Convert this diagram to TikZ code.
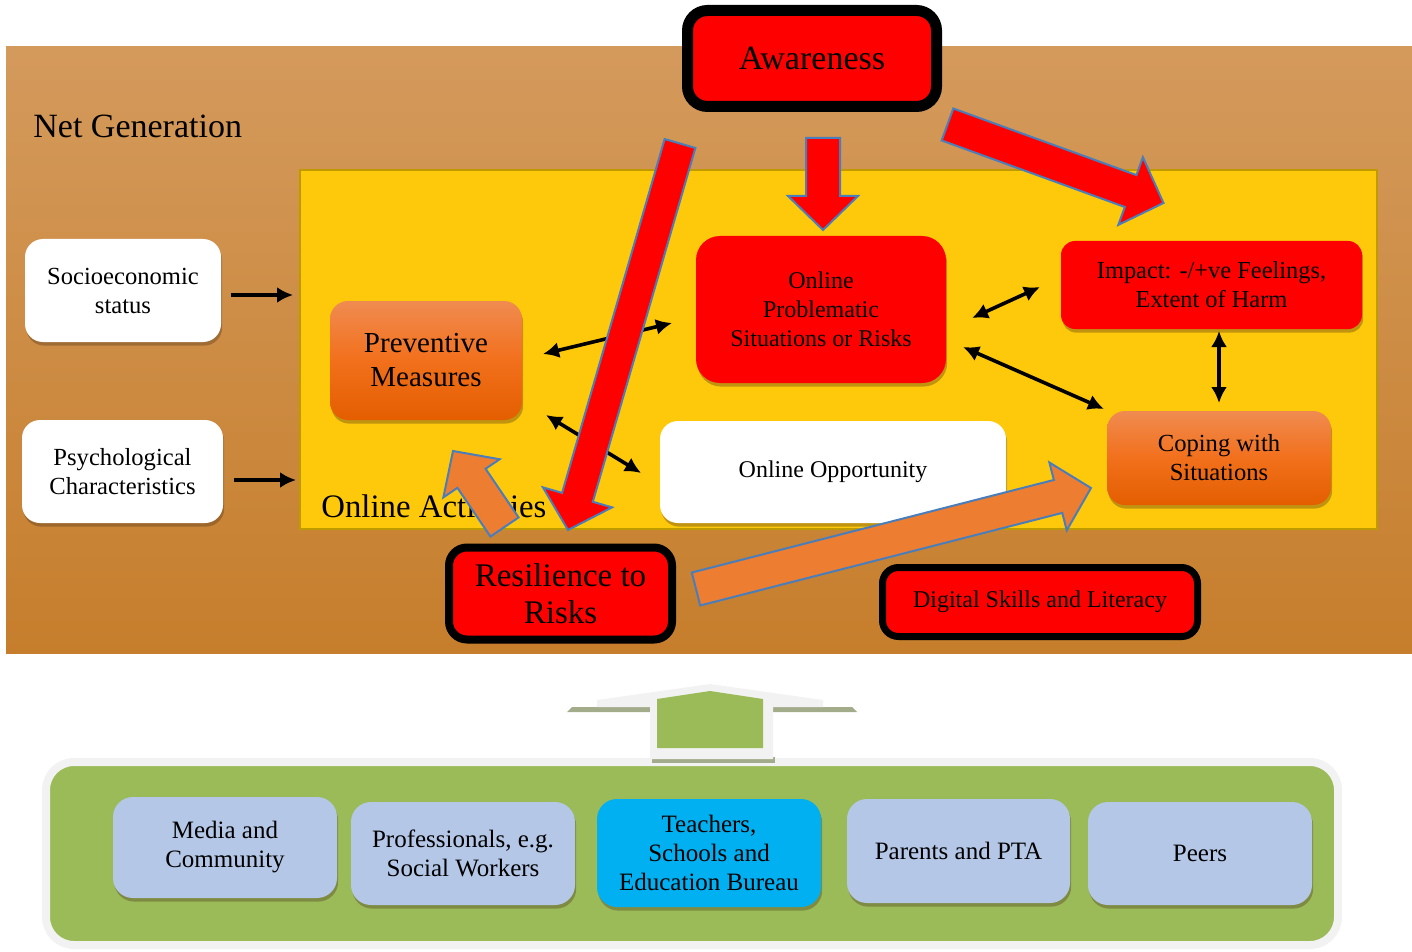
\documentclass[tikz,border=0pt]{standalone}
\usepackage{fontspec}
\setmainfont{Liberation Serif}
\usetikzlibrary{calc,shadows,arrows.meta}
\definecolor{bgtop}{HTML}{D49A5C}
\definecolor{bgbot}{HTML}{C67E2C}
\definecolor{yel}{HTML}{FFC90B}
\definecolor{yelbd}{HTML}{BF9B00}
\definecolor{orTop}{HTML}{F08B50}
\definecolor{orMid}{HTML}{F2701C}
\definecolor{orBot}{HTML}{E45E00}
\definecolor{lblue}{HTML}{B4C7E7}
\definecolor{cyanb}{HTML}{00B0F0}
\definecolor{grn}{HTML}{9BBB59}
\definecolor{cbord}{HTML}{F2F2F2}
\definecolor{orArrow}{HTML}{ED7D31}
\definecolor{abord}{HTML}{4A7EBB}
\definecolor{shgrey}{HTML}{A3AC8A}
\newcommand\blockarr[6]{%
 \draw[#1] ($(#2)!#4!90:(#3)$) -- ($(#3)!#6!(#2)!#4!-90:(#2)$) -- ($(#3)!#6!(#2)!#5!-90:(#2)$) -- (#3) -- ($(#3)!#6!(#2)!#5!90:(#2)$) -- ($(#3)!#6!(#2)!#4!90:(#2)$) -- ($(#2)!#4!-90:(#3)$) -- cycle;}
\begin{document}
\begin{tikzpicture}[x=0.5pt,y=-0.5pt,
 every node/.style={align=center, text=black, inner sep=2pt},
 shad/.style={drop shadow={shadow xshift=0.6pt, shadow yshift=-1.8pt, opacity=0.35, fill=black!60!brown}},
 wbox/.style={fill=white, rounded corners=9pt, shad, font=\fontsize{12.3}{14.5}\selectfont},
 obox/.style={top color=orTop, bottom color=orBot, middle color=orMid, rounded corners=9pt, shad},
 rbox/.style={fill=red, shad},
 kbox/.style={fill=red, draw=black, rounded corners=9pt, shad},
 bbox/.style={fill=lblue, rounded corners=10pt, shad, minimum width=112pt, font=\fontsize{12.5}{14.5}\selectfont},
 arr/.style={-{Latex[length=8pt,width=8pt]}, line width=1.8pt},
 darr/.style={{Latex[length=8pt,width=8pt]}-{Latex[length=8pt,width=8pt]}, line width=1.8pt},
 redarrow/.style={fill=red, draw=abord, line width=1pt},
 orarrow/.style={fill=orArrow, draw=abord, line width=1pt}]
\useasboundingbox (0,0) rectangle (1412,952);
% background
\fill[top color=bgtop, bottom color=bgbot] (6,47) rectangle (1412,653);
\node[anchor=base west, font=\fontsize{17}{20}\selectfont] (netgen) at (29,138) {Net Generation};
\node[draw=yelbd, fill=yel, line width=1.2pt, minimum width=538.5pt, minimum height=179.5pt, inner sep=0pt] (online) at (838.5,349.5) {};
\node[anchor=base west, font=\fontsize{16.4}{19}\selectfont] (onlinelab) at (317,517) {Online Activities};
% boxes
\node[kbox, line width=5.5pt, rounded corners=10pt, minimum width=124.5pt, minimum height=48pt, font=\fontsize{17}{19}\selectfont] (aware) at (812,58.5) {Awareness};
\node[wbox, minimum width=98pt, minimum height=51.5pt] (socio) at (123,290.5) {Socioeconomic\\status};
\node[wbox, minimum width=100.5pt, minimum height=51.5pt] (psych) at (122.5,471.5) {Psychological\\Characteristics};
\node[obox, minimum width=96pt, minimum height=59.5pt, font=\fontsize{14.5}{17}\selectfont] (prev) at (426,360.5) {Preventive\\Measures};
\node[rbox, rounded corners=12pt, minimum width=125pt, minimum height=73.5pt, font=\fontsize{12}{14.5}\selectfont] (opsr) at (821,309.5) {Online\\Problematic\\Situations or Risks};
\node[rbox, rounded corners=7pt, minimum width=150.5pt, minimum height=44pt, font=\fontsize{12.2}{14.5}\selectfont] (impact) at (1211.5,285) {Impact: -/+ve Feelings,\\Extent of Harm};
\node[obox, minimum width=112pt, minimum height=47pt, font=\fontsize{12.3}{14.5}\selectfont] (coping) at (1219,458) {Coping with\\Situations};
\node[wbox, minimum width=173pt, minimum height=51pt, font=\fontsize{12}{14}\selectfont] (opp) at (833,472) {Online Opportunity};
\node[kbox, line width=4pt, minimum width=111.5pt, minimum height=46pt, font=\fontsize{16.5}{18.5}\selectfont] (resil) at (560.5,593.5) {Resilience to\\Risks};
\node[kbox, line width=3.5pt, rounded corners=8pt, minimum width=157.5pt, minimum height=34.5pt, font=\fontsize{12}{14}\selectfont] (digital) at (1040,602) {Digital Skills and Literacy};
% black arrows
\coordinate (s1) at (231,295); \coordinate (s2) at (293,295);
\coordinate (p1) at (234,480); \coordinate (p2) at (296,480);
\coordinate (a1) at (543,354); \coordinate (a2) at (672,323);
\coordinate (b1) at (546,415); \coordinate (b2) at (641,473);
\coordinate (c1) at (972,318); \coordinate (c2) at (1040,287);
\coordinate (d1) at (963,347); \coordinate (d2) at (1104,409);
\coordinate (e1) at (1219,331); \coordinate (e2) at (1219,403);
\draw[arr] (s1) -- (s2);
\draw[arr] (p1) -- (p2);
\draw[darr] (a1) -- (a2);
\draw[darr] (b1) -- (b2);
\draw[darr] (c1) -- (c2);
\draw[darr] (d1) -- (d2);
\draw[darr] (e1) -- (e2);
% block arrows
\coordinate (A1) at (823,138); \coordinate (A2) at (823,230);
\coordinate (B1) at (947.5,124.5); \coordinate (B2) at (1163.5,203);
\coordinate (C1) at (680,143.5); \coordinate (C2) at (568,530);
\coordinate (D1) at (504.5,527); \coordinate (D2) at (453,451);
\coordinate (E1) at (696,589); \coordinate (E2) at (1091,488);
\blockarr{redarrow}{A1}{A2}{8.5pt}{17.5pt}{17pt}
\blockarr{redarrow}{B1}{B2}{8.5pt}{18pt}{17.5pt}
\blockarr{redarrow}{C1}{C2}{8pt}{18pt}{17pt}
\blockarr{orarrow}{D1}{D2}{8.5pt}{17pt}{16.5pt}
\blockarr{orarrow}{E1}{E2}{8.5pt}{17.5pt}{17pt}
% bottom container
\node[fill=grn, draw=cbord, line width=4pt, rounded corners=14pt, minimum width=646pt, minimum height=91.5pt, drop shadow={shadow xshift=1pt, shadow yshift=-1.5pt, opacity=0.45, fill=shgrey}] (base) at (692,853.5) {};
\node[bbox, minimum height=50.5pt] (media) at (225,847.5) {Media and\\Community};
\node[bbox, minimum height=51.5pt] (prof) at (463,853.5) {Professionals, e.g.\\Social Workers};
\node[bbox, fill=cyanb, minimum height=54pt] (teach) at (709,853) {Teachers,\\Schools and\\Education Bureau};
\node[bbox, minimum width=111.5pt, minimum height=52pt] (parents) at (958.5,851) {Parents and PTA};
\node[bbox, minimum height=51.5pt] (peers) at (1200,853.5) {Peers};
% up arrow
\fill[shgrey] (572,707) -- (852,707) -- (857,712) -- (567,712) -- cycle;
\fill[shgrey] (652,757) -- (775,757) -- (775,763) -- (652,763) -- cycle;
\fill[cbord] (597,700) -- (710,684) -- (823,700) -- (823,707) -- (773,707) -- (773,759) -- (650,759) -- (650,707) -- (597,707) -- cycle;
\fill[grn] (657,699) -- (710,691) -- (763,699) -- (763,748) -- (657,748) -- cycle;
\end{tikzpicture}
\end{document}
